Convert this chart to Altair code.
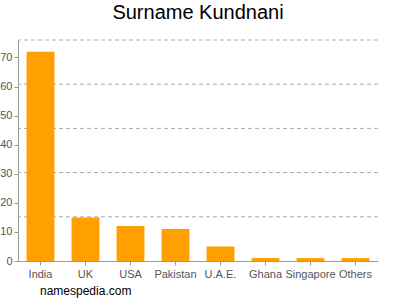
import altair as alt
import pandas as pd

countries = ["India", "UK", "USA", "Pakistan", "U.A.E.", "Ghana", "Singapore", "Others"]
counts = [72, 15, 12, 11, 5, 1, 1, 1]
y_ticks = [0, 10, 20, 30, 40, 50, 60, 70]
y_max = 76

df = pd.DataFrame({"country": countries, "count": counts})
grid_df = pd.DataFrame({"g": [y_max * i / 5 for i in range(1, 6)]})

FONT = "Liberation Sans"

yscale = alt.Scale(domain=[0, y_max], nice=False)
yaxis = alt.Axis(values=y_ticks, grid=False, labelFont=FONT, labelFontSize=11,
                 labelColor="#555555", domainColor="#999999", tickColor="#999999",
                 tickSize=4, labelPadding=2)

grid = alt.Chart(grid_df).mark_rule(color="#aaaaaa", strokeDash=[4, 3], strokeWidth=1).encode(
    y=alt.Y("g:Q", scale=yscale, axis=yaxis, title=None)
)

bars = alt.Chart(df).mark_bar(color="#ffa000").encode(
    x=alt.X("country:N", sort=countries, title=None,
            scale=alt.Scale(paddingInner=0.38, paddingOuter=0.19),
            axis=alt.Axis(labelAngle=0, labelFont=FONT, labelFontSize=11, labelColor="#555555",
                          domainColor="#999999", tickColor="#999999", tickSize=4, labelPadding=3)),
    y=alt.Y("count:Q", scale=yscale, title=None, axis=yaxis),
)

footer = alt.Chart(pd.DataFrame({"t": ["namespedia.com"]})).mark_text(
    font=FONT, fontSize=12, color="#000000", align="left", baseline="middle"
).encode(x=alt.value(22), y=alt.value(251), text="t:N")

chart = alt.layer(grid, bars, footer).properties(
    width=360, height=221,
    title=alt.TitleParams("Surname Kundnani", font=FONT, fontSize=20, fontWeight="normal",
                          color="#000000", anchor="middle", offset=17),
    autosize=alt.AutoSizeParams(type="none"),
    padding={"left": 18, "top": 40, "right": 22, "bottom": 39},
).configure_view(stroke=None)

chart.save("out.html", embed_options={"renderer": "svg", "actions": False})
